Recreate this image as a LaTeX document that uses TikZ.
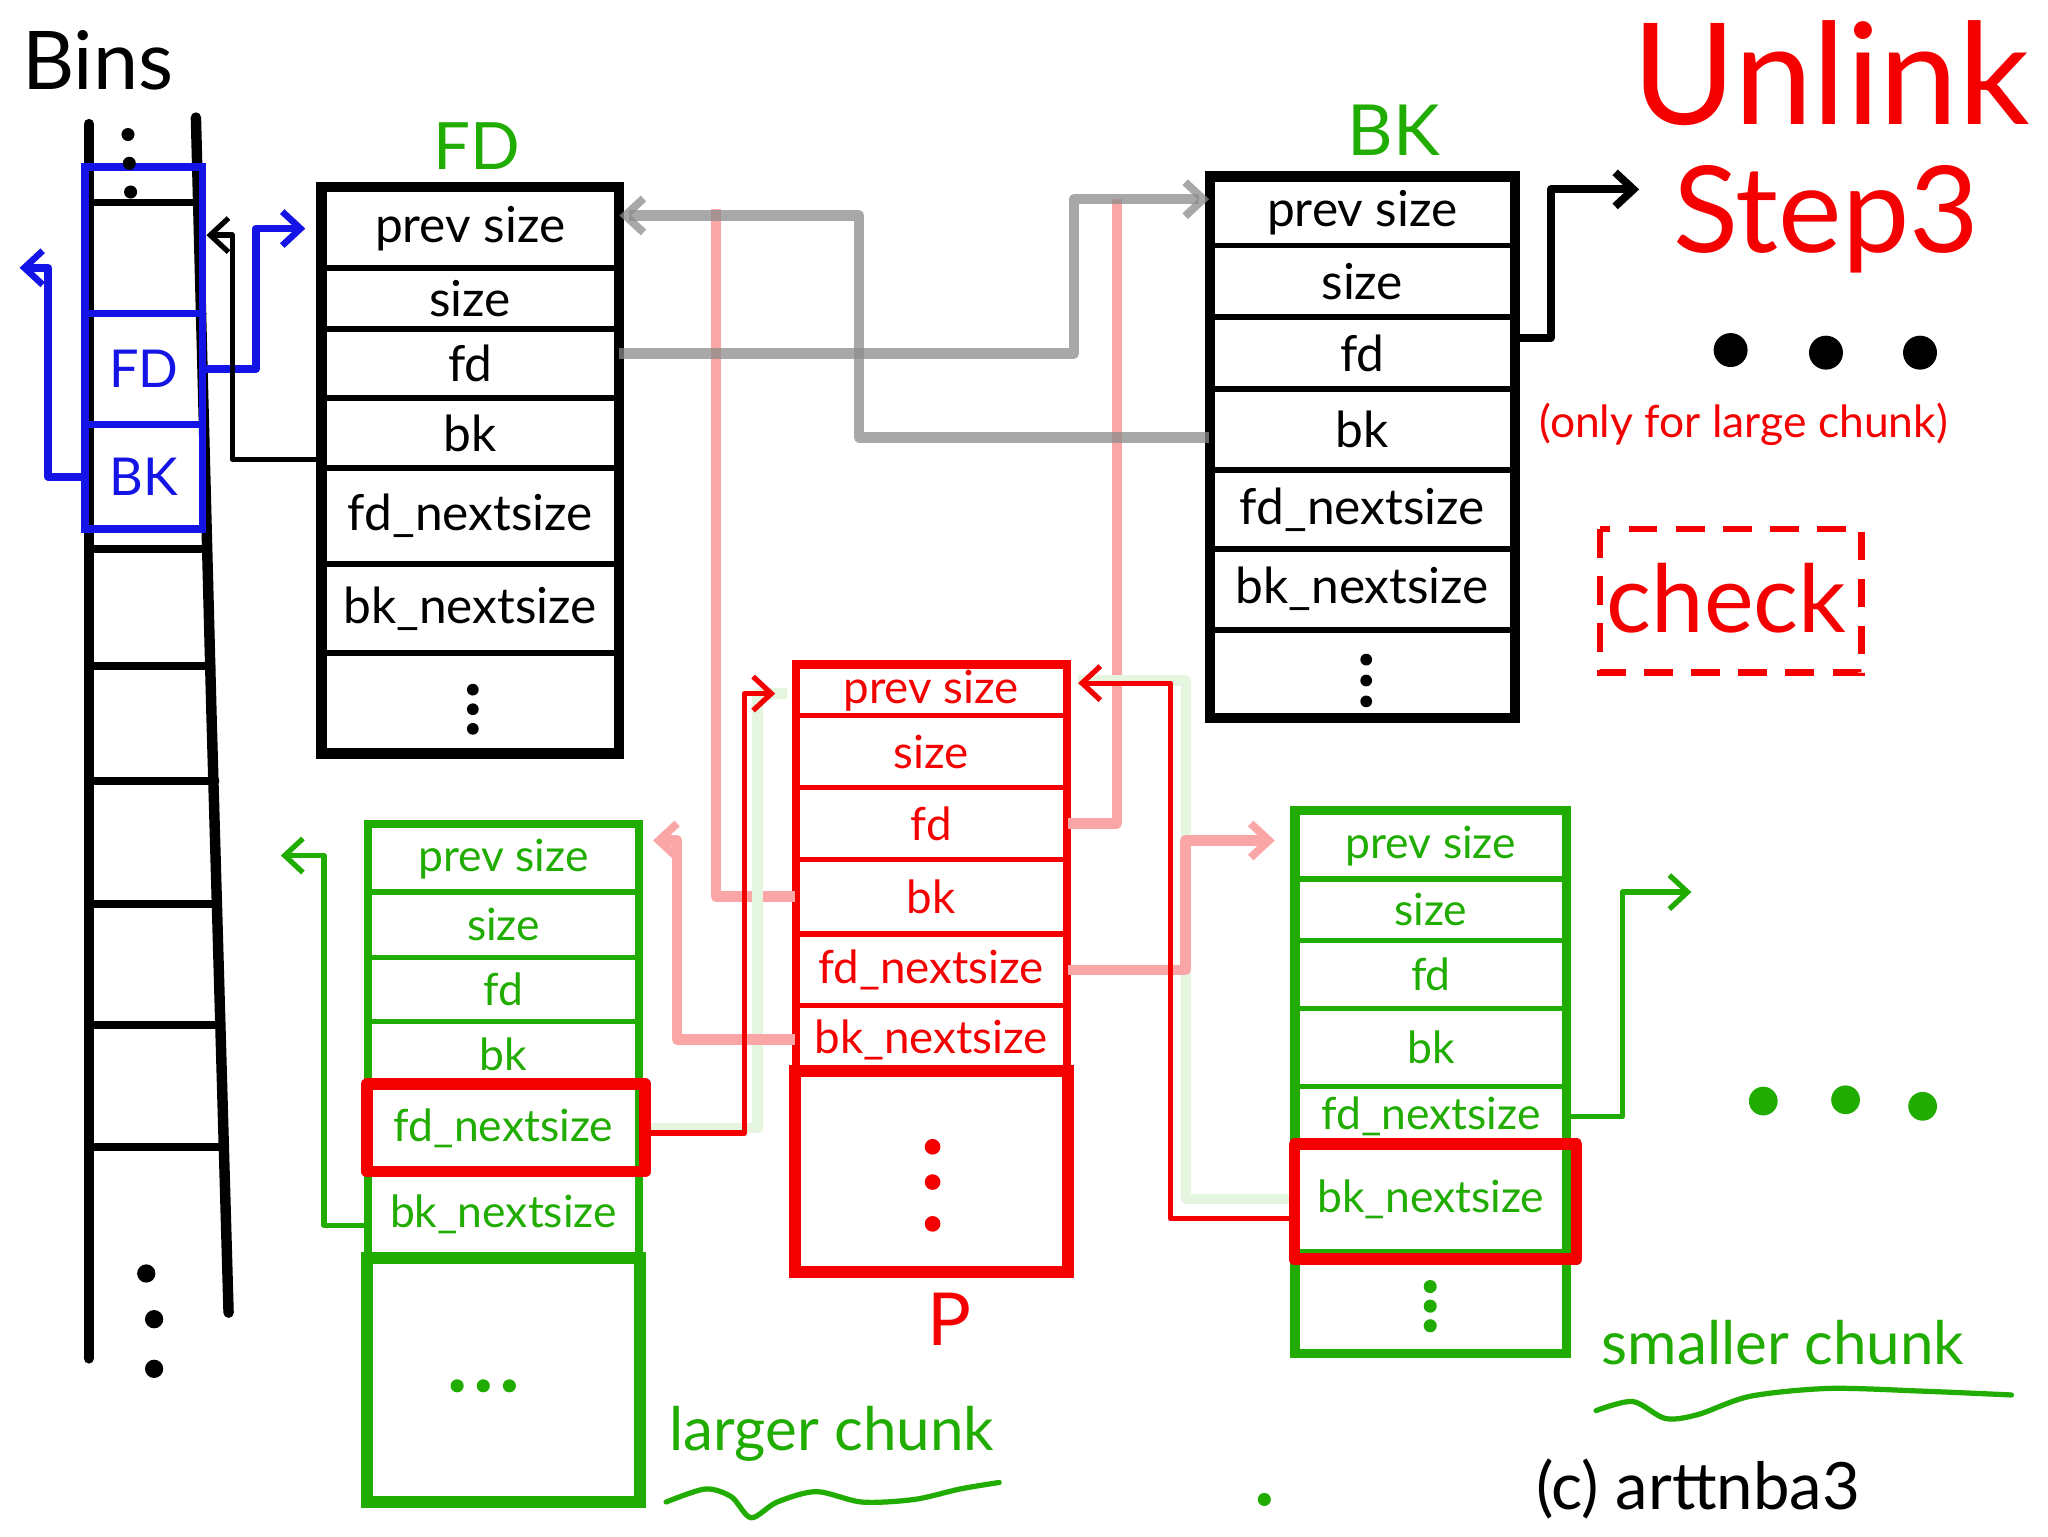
\documentclass[tikz,border=0pt]{standalone}
\usepackage{fontspec}
\setmainfont{Lato}
\usetikzlibrary{arrows.meta,calc}
\definecolor{hgreen}{RGB}{32,172,0}
\definecolor{hred}{RGB}{245,0,0}
\definecolor{hblue}{RGB}{20,20,230}
\newcommand{\fsz}[1]{\fontsize{#1}{#1}\selectfont}
\tikzset{
  barbtip/.style={-{Straight Barb[length=14pt,width=26pt,line width=#1]}},
  conn/.style={line width=4pt, line join=round, line cap=round},
  blackrow/.style={draw=black, line width=4.5pt, minimum width=224pt, inner sep=0pt, font=\fsz{38}, text=black},
  bkrow/.style={blackrow, minimum width=230pt},
  prow/.style={draw=hred, line width=4pt, minimum width=205pt, inner sep=0pt, font=\fsz{35}, text=hred},
  greenrow/.style={draw=hgreen, line width=4pt, minimum width=205pt, inner sep=0pt, font=\fsz{34}, text=hgreen},
  grayln/.style={line width=8pt, draw=black!45, opacity=0.75, line join=round},
  pinkln/.style={line width=8pt, draw=hred!35, line join=round},
  lgreenln/.style={line width=8pt, draw=hgreen!12, line join=round},
  hilite/.style={draw=hred, line width=9pt, line join=round},
}
\begin{document}
\begin{tikzpicture}[x=1pt,y=-1pt]
\useasboundingbox (0,0) rectangle (1568,1176);
\fill[white] (0,0) rectangle (1568,1176);

\coordinate (pinkend1) at (548,160);
\coordinate (pinkend2) at (855,152);

% ---------- FD chunk ----------
\node[blackrow, minimum height=60pt] (fdprev) at (360,175) {prev size};
\node[blackrow, minimum height=47pt] (fdsize) at (360,228.5) {size};
\node[blackrow, minimum height=53pt] (fdfd) at (360,278.5) {fd};
\node[blackrow, minimum height=53pt] (fdbk) at (360,331.5) {bk};
\node[blackrow, minimum height=74pt] (fdfdn) at (360,395) {fd\_nextsize};
\node[blackrow, minimum height=68pt] (fdbkn) at (360,466) {bk\_nextsize};
\node[blackrow, minimum height=75pt] (fddots) at (360,537.5) {};
\draw[line width=7pt] (fdprev.north west) rectangle (fddots.south east);
\node[text=hgreen, font=\fsz{50}] (fdlabel) at (365,112) {FD};

% ---------- BK chunk ----------
\node[bkrow, minimum height=51pt] (bkprev) at (1043,162.5) {prev size};
\node[bkrow, minimum height=55pt] (bksize) at (1043,215.5) {size};
\node[bkrow, minimum height=55pt] (bkfd) at (1043,270.5) {fd};
\node[bkrow, minimum height=62pt] (bkbk) at (1043,329) {bk};
\node[bkrow, minimum height=60pt] (bkfdn) at (1043,390) {fd\_nextsize};
\node[bkrow, minimum height=62pt] (bkbkn) at (1043,451) {bk\_nextsize};
\node[bkrow, minimum height=66pt] (bkdots) at (1043,515) {};
\draw[line width=7pt] (bkprev.north west) rectangle (bkdots.south east);
\node[text=hgreen, font=\fsz{54}] (bklabel) at (1067,100) {BK};

% ---------- P chunk ----------
\node[prow, minimum height=38pt] (pprev) at (713,529) {prev size};
\node[prow, minimum height=55pt] (psize) at (713,575.5) {size};
\node[prow, minimum height=55pt] (pfd) at (713,630.5) {fd};
\node[prow, minimum height=57pt] (pbk) at (713,686.5) {bk};
\node[prow, minimum height=55pt] (pfdn) at (713,742.5) {fd\_nextsize};
\node[prow, minimum height=52pt] (pbkn) at (713,796) {bk\_nextsize};
\node[prow, minimum height=150pt] (pdots) at (713,897) {};
\draw[hred, line width=5pt] (pprev.north west) rectangle (pdots.south east);
\draw[hred, line width=9pt] (pdots.north west) rectangle (pdots.south east);
\node[text=hred, font=\fsz{56}] (plabel) at (727,1010) {P};

% ---------- larger chunk ----------
\node[greenrow, minimum height=51pt] (lgprev) at (385.5,657.5) {prev size};
\node[greenrow, minimum height=50pt] (lgsize) at (385.5,708) {size};
\node[greenrow, minimum height=49pt] (lgfd) at (385.5,757.5) {fd};
\node[greenrow, minimum height=50pt] (lgbk) at (385.5,807) {bk};
\node[greenrow, minimum height=63pt] (lgfdn) at (385.5,863.5) {fd\_nextsize};
\node[greenrow, minimum height=70pt] (lgbkn) at (385.5,930) {bk\_nextsize};
\node[greenrow, minimum height=183pt] (lgdots) at (385.5,1056.5) {};
\draw[hgreen, line width=5pt] (lgprev.north west) rectangle (lgdots.south east);
\draw[hgreen, line width=9pt] (lgdots.north west) rectangle (lgdots.south east);
\node[text=hgreen, font=\fsz{46}] (lglabel) at (637,1098) {larger chunk};

% ---------- smaller chunk ----------
\node[greenrow, minimum height=51pt] (smprev) at (1095.5,647.5) {prev size};
\node[greenrow, minimum height=47pt] (smsize) at (1095.5,696.5) {size};
\node[greenrow, minimum height=52pt] (smfd) at (1095.5,746) {fd};
\node[greenrow, minimum height=60pt] (smbk) at (1095.5,802) {bk};
\node[greenrow, minimum height=46pt] (smfdn) at (1095.5,855) {fd\_nextsize};
\node[greenrow, minimum height=80pt] (smbkn) at (1095.5,918) {bk\_nextsize};
\node[greenrow, minimum height=77pt] (smdots) at (1095.5,996.5) {};
\draw[hgreen, line width=6pt] (smprev.north west) rectangle (smdots.south east);
\node[text=hgreen, font=\fsz{46}] (smlabel) at (1365,1028) {smaller chunk};

% ---------- faint connectors ----------
\draw[pinkln] (pbk.west) -| (pinkend1);
\draw[pinkln] (pfd.east) -| (pinkend2);
\draw[lgreenln] (lgfdn.east) -- ++(90,0) |- ([xshift=-6pt,yshift=-2pt]pprev.west);
\draw[lgreenln] (smbkn.west) -- ++(-83,0) |- ([xshift=8pt,yshift=8pt]pprev.east);
\draw[grayln, barbtip=6pt] ([yshift=-6pt]bkbk.west) -- ++(-268,0) |- ([yshift=10pt]fdprev.east);
\draw[grayln, barbtip=6pt] ([yshift=8pt]fdfd.east) -- ++(348,0) |- ([yshift=10pt]bkprev.west);
\draw[pinkln, barbtip=6pt] (pbkn.west) -- ++(-90,0) |- ([xshift=10pt,yshift=14pt]lgprev.east);
\draw[pinkln, barbtip=6pt] (pfdn.east) -- ++(90,0) |- ([xshift=-15pt,yshift=4pt]smprev.west);

% ---------- highlight boxes ----------
\draw[hilite] (lgfdn.north west) rectangle ([xshift=4pt]lgfdn.south east);
\draw[hilite] (smbkn.north west) rectangle ([xshift=7pt,yshift=-4pt]smbkn.south east);

% ---------- red / green connectors ----------
\draw[hred, conn, barbtip=4pt] ([yshift=-4pt,xshift=4pt]lgfdn.east) -- ++(76,0) |- ([xshift=-15pt,yshift=-2pt]pprev.west);
\draw[hred, conn, barbtip=4pt] ([yshift=-15pt]smbkn.west) -- ++(-95,0) |- ([xshift=8pt,yshift=6pt]pprev.east);
\coordinate (gend1) at (215,655);
\coordinate (gend2) at (1295,683);
\draw[hgreen, conn, barbtip=4pt] ([yshift=-8pt]lgbkn.west) -- ++(-33,0) |- (gend1);
\draw[hgreen, conn, barbtip=4pt] (smfdn.east) -- ++(42,0) |- (gend2);

% ---------- Bins ladder ----------
\node[font=\fsz{62}] (binstitle) at (75,46) {Bins};
\draw[line width=8pt, line cap=round] (68,95) -- (68,1040);
\draw[line width=8pt, line cap=round] (150,90) -- (162,550) -- (175,1005);
\foreach \yy/\xx in {155/152,240/155,420/159,510/162,598/165,692/167,785/169,878/172}
  \draw[line width=6pt, line cap=round] (68,\yy) -- (\xx,\yy);
\node[draw=hblue, line width=6pt, minimum width=90pt, minimum height=85pt, inner sep=0pt, text=hblue, font=\fsz{40}] (binfd) at (110,282.5) {FD};
\node[draw=hblue, line width=6pt, minimum width=90pt, minimum height=80pt, inner sep=0pt, text=hblue, font=\fsz{40}] (binbk) at (110,365) {BK};
\draw[hblue, line width=6pt] (65,128) rectangle (155,405);
\foreach \yy/\xx in {103/98,125/99,147/100} \fill (\xx,\yy) circle (5);
\foreach \yy/\xx in {975/112,1010/118,1048/118} \fill (\xx,\yy) circle (7);

% ---------- bins connectors ----------
\coordinate (bend) at (15,205);
\coordinate (binptr) at (158,180);
\coordinate (bkend) at (1255,145);
\draw[hblue, line width=6pt, line join=round, barbtip=5pt] (binfd.east) -- ++(38,0) |- ([xshift=-12pt]fdprev.west);
\draw[hblue, line width=6pt, line join=round, barbtip=5pt] (binbk.west) -- ++(-25,0) |- (bend);
\draw[black, conn, barbtip=4pt] ([yshift=-20pt]fdbk.west) -- ++(-68,0) |- (binptr);
\draw[black, line width=6pt, line join=round, barbtip=6pt] ([yshift=12pt]bkfd.east) -- ++(27,0) |- (bkend);

% ---------- chunk dots ----------
\foreach \yy in {528,543,558} \fill (362,\yy) circle (4.5);
\foreach \yy in {505,521,537} \fill (1046,\yy) circle (4.5);
\foreach \yy in {878,905,937} \fill[hred] (714,\yy) circle (6);
\foreach \xx in {350,370,390} \fill[hgreen] (\xx,1061) circle (5);
\foreach \yy in {985,1000,1015} \fill[hgreen] (1095,\yy) circle (5);

% ---------- title area ----------
\node[text=hred, font=\fsz{108}] (unlink) at (1402,56) {Unlink};
\node[text=hred, font=\fsz{92}] (step) at (1398,168) {Step3};
\foreach \xx/\yy in {1325/268,1398/270,1470/270} \fill (\xx,\yy) circle (13);
\node[text=hred, font=\fsz{34}] (only) at (1335,325) {(only for large chunk)};
\node[text=hred, font=\fsz{72}] (check) at (1322,458) {check};
\draw[hred, line width=5pt, dash pattern=on 22pt off 14pt] (1225,405) rectangle (1425,515);

% ---------- misc ----------
\foreach \xx/\yy in {1350/843,1413/842,1472/847} \fill[hgreen] (\xx,\yy) circle (11);
\fill[hgreen] (968,1148) circle (5);
\draw[hgreen, line width=4pt, line cap=round] plot[smooth] coordinates {(510,1150) (540,1140) (560,1146) (575,1162) (595,1150) (625,1142) (660,1150) (700,1148) (735,1140) (765,1135)};
\draw[hgreen, line width=4pt, line cap=round] plot[smooth] coordinates {(1222,1080) (1250,1073) (1275,1086) (1300,1083) (1340,1069) (1400,1063) (1470,1065) (1540,1068)};
\node[font=\fsz{50}] (copy) at (1300,1140) {(c) arttnba3};
\end{tikzpicture}
\end{document}
